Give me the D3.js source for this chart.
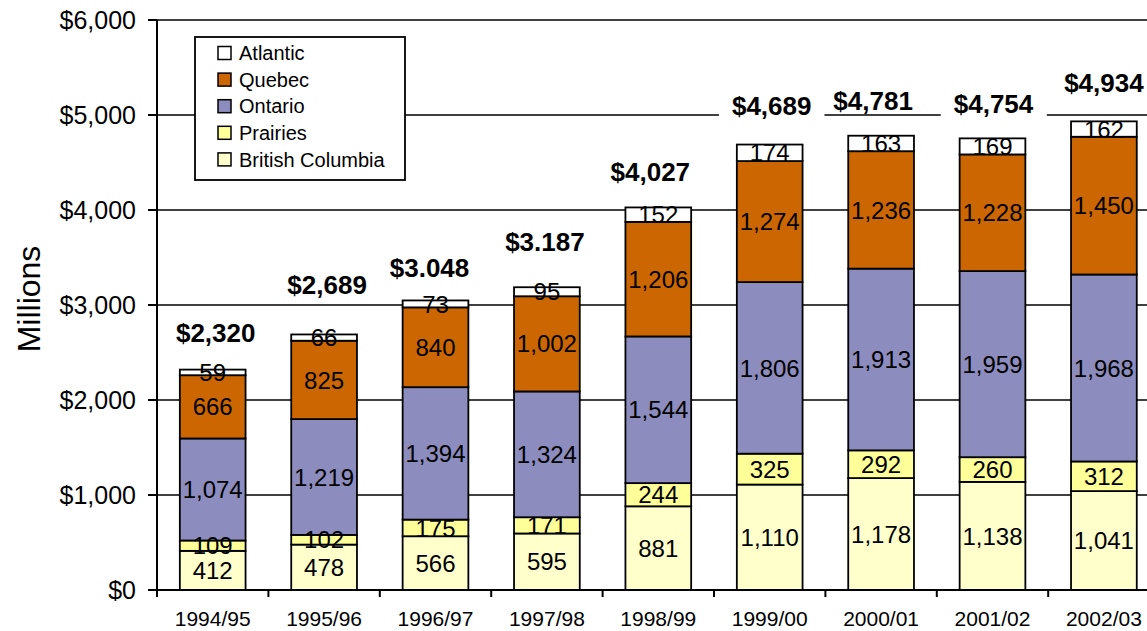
<!DOCTYPE html>
<html><head><meta charset="utf-8">
<script src="https://cdn.jsdelivr.net/npm/d3@7"></script>
<style>
html,body{margin:0;padding:0;background:#fff;}
svg{display:block;font-family:"Liberation Sans",Arial,sans-serif;}
</style></head>
<body><svg id="c" width="1147" height="631"></svg>
<script>
// ---- data ----
const categories = ["1994/95","1995/96","1996/97","1997/98","1998/99","1999/00","2000/01","2001/02","2002/03"];
const britishColumbia = [412,478,566,595,881,1110,1178,1138,1041];
const prairies = [109,102,175,171,244,325,292,260,312];
const ontario = [1074,1219,1394,1324,1544,1806,1913,1959,1968];
const quebec = [666,825,840,1002,1206,1274,1236,1228,1450];
const atlantic = [59,66,73,95,152,174,163,169,162];
const totalLabels = ["$2,320","$2,689","$3.048","$3.187","$4,027","$4,689","$4,781","$4,754","$4,934"];
const yTicks = [0,1000,2000,3000,4000,5000,6000];
const seriesNames = ["British Columbia","Prairies","Ontario","Quebec","Atlantic"];
const legendOrder = ["Atlantic","Quebec","Ontario","Prairies","British Columbia"];

// ---- layout / style ----
const colors = {"British Columbia":"#ffffcc","Prairies":"#ffff99","Ontario":"#8c8cbe","Quebec":"#cc6600","Atlantic":"#ffffff"};
const totalLift = [28,40,23,36,26,30,26,25,29];   // hand-placed label lifts (px above bar top)
const totalShift = [3,3,-6,-2,-8,2,-8,1,0];       // hand-placed label nudges (px)
const padL = 157, padT = 20, padB = 590, step = 111.4;

const svg = d3.select("#c");
const x = d3.scaleBand().domain(categories).range([padL, padL + step*categories.length]).paddingInner(0.41).paddingOuter(0.205);
const y = d3.scaleLinear().domain([0,6000]).range([padB, padT]);

const seriesData = {"British Columbia":britishColumbia,"Prairies":prairies,"Ontario":ontario,"Quebec":quebec,"Atlantic":atlantic};
const rows = categories.map((c,i)=>{const r={cat:c}; seriesNames.forEach(s=>r[s]=seriesData[s][i]); return r;});
const stack = d3.stack().keys(seriesNames)(rows);

// gridlines
svg.append("g").selectAll("line").data(yTicks.filter(t=>t>0)).join("line")
  .attr("x1",padL).attr("x2",1147).attr("y1",d=>y(d)).attr("y2",d=>y(d))
  .attr("stroke","#000").attr("stroke-width",1.5);

// bars
const gBars = svg.append("g");
stack.forEach(layer=>{
  gBars.selectAll(null).data(layer).join("rect")
    .attr("x",d=>x(d.data.cat)).attr("width",x.bandwidth())
    .attr("y",d=>y(d[1])).attr("height",d=>y(d[0])-y(d[1]))
    .attr("fill",colors[layer.key]).attr("stroke","#000").attr("stroke-width",1.8);
});
// segment labels
stack.forEach(layer=>{
  gBars.selectAll(null).data(layer).join("text")
    .attr("x",d=>x(d.data.cat)+x.bandwidth()/2)
    .attr("y",d=>y((d[0]+d[1])/2)).attr("dy","0.36em")
    .attr("text-anchor","middle").attr("font-size",24).attr("fill","#000")
    .text(d=>d3.format(",")(d.data[layer.key]));
});

// totals
const gTot = svg.append("g");
categories.forEach((c,i)=>{
  const sum = seriesNames.reduce((a,s)=>a+seriesData[s][i],0);
  const bx = x(c)+x.bandwidth()/2+totalShift[i];
  const by = y(sum)-totalLift[i];
  const g = gTot.append("g");
  const t = g.append("text").attr("x",bx).attr("y",by).attr("text-anchor","middle")
    .attr("font-size",26).attr("font-weight","bold").text(totalLabels[i]);
  const bb = t.node().getBBox();
  g.insert("rect","text").attr("x",bb.x-13).attr("width",bb.width+26)
    .attr("y",by-26*0.716-3).attr("height",26*0.716+6).attr("fill","#fff");
});

// axes
svg.append("line").attr("x1",padL).attr("x2",padL).attr("y1",padT).attr("y2",padB).attr("stroke","#000").attr("stroke-width",2);
svg.append("line").attr("x1",padL).attr("x2",1147).attr("y1",padB).attr("y2",padB).attr("stroke","#000").attr("stroke-width",2);
svg.append("g").selectAll("line").data(yTicks).join("line")
  .attr("x1",padL-9).attr("x2",padL).attr("y1",d=>y(d)).attr("y2",d=>y(d)).attr("stroke","#000").attr("stroke-width",2);
svg.append("g").selectAll("text").data(yTicks).join("text")
  .attr("x",136).attr("y",d=>y(d)).attr("dy","0.36em").attr("text-anchor","end").attr("font-size",25)
  .text(d=>"$"+d3.format(",")(d));
const bounds = d3.range(categories.length+1).map(i=>padL+i*x.step());
svg.append("g").selectAll("line").data(bounds).join("line")
  .attr("x1",d=>d).attr("x2",d=>d).attr("y1",padB).attr("y2",padB+7).attr("stroke","#000").attr("stroke-width",2);
svg.append("g").selectAll("text").data(categories).join("text")
  .attr("x",d=>x(d)+x.bandwidth()/2).attr("y",626).attr("text-anchor","middle").attr("font-size",21).text(d=>d);
svg.append("text").attr("transform","translate(40,299) rotate(-90)").attr("text-anchor","middle")
  .attr("font-size",32).text("Millions");

// legend
const lg = svg.append("g");
lg.append("rect").attr("x",195).attr("y",37).attr("width",210).attr("height",143).attr("fill","#fff").attr("stroke","#000").attr("stroke-width",1.8);
legendOrder.forEach((s,i)=>{
  const cy = 53 + i*26.6;
  lg.append("rect").attr("x",218).attr("y",cy-6.5).attr("width",13).attr("height",13).attr("fill",colors[s]).attr("stroke","#000").attr("stroke-width",1.5);
  lg.append("text").attr("x",239).attr("y",cy).attr("dy","0.36em").attr("font-size",20).text(s);
});
</script></body></html>
